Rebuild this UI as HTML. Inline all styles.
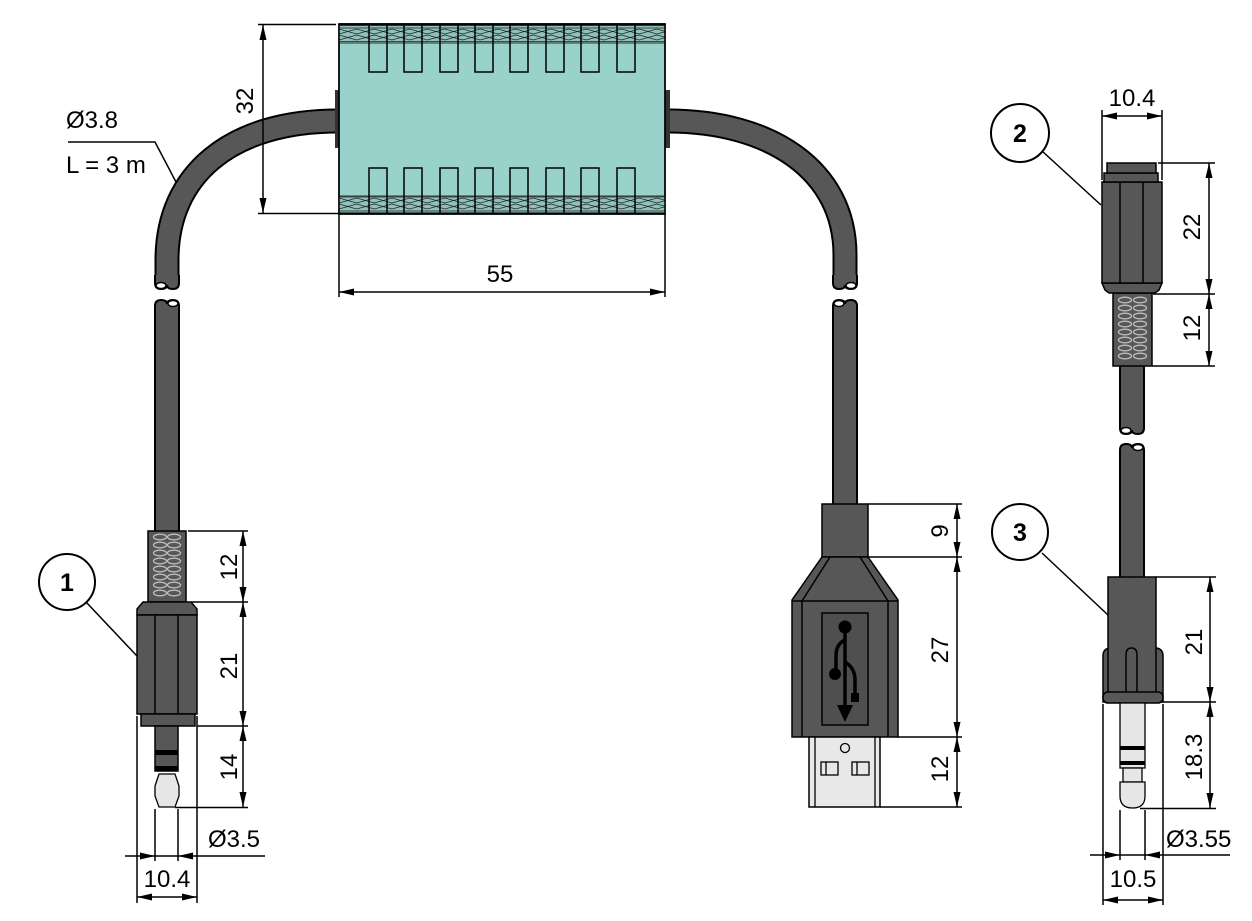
<!DOCTYPE html>
<html><head><meta charset="utf-8"><style>
html,body{margin:0;padding:0;background:#fff;}
svg{display:block;}
text{font-family:"Liberation Sans",Arial,sans-serif;font-size:24px;fill:#000;}
.b{font-weight:bold;font-size:25px;}
</style></head><body>
<svg width="1252" height="921" viewBox="0 0 1252 921" xmlns="http://www.w3.org/2000/svg">
<defs>
<marker id="ar" viewBox="0 0 15 7" refX="15" refY="3.5" markerWidth="15" markerHeight="7" markerUnits="userSpaceOnUse" orient="auto-start-reverse"><path d="M0,0 L15,3.5 L0,7 Z" fill="#000"/></marker>
<pattern id="hat" x="339" y="24" width="17.66" height="19" patternUnits="userSpaceOnUse">
<rect width="17.66" height="19" fill="#8fc2ba"/>
<path d="M0 4 L17.66 4 M0 5 L17.66 10 M0 10 L17.66 5 M0 11 L17.66 16 M0 16 L17.66 11 M0 17.5 L17.66 17.5" stroke="#222" stroke-width="0.8" fill="none"/>
</pattern>
<pattern id="hat2" x="339" y="196" width="17.66" height="18" patternUnits="userSpaceOnUse">
<rect width="17.66" height="18" fill="#8fc2ba"/>
<path d="M0 1 L17.66 1 M0 2 L17.66 7 M0 7 L17.66 2 M0 8 L17.66 13 M0 13 L17.66 8 M0 15 L17.66 15" stroke="#222" stroke-width="0.8" fill="none"/>
</pattern>
<g id="cap">
<path d="M-12 -6 L-12 2 Q-12 8 -6 8 Q0 8 0 4 Q0 8 6 8 Q12 8 12 2 L12 -6 Z" fill="#575757"/>
<path d="M-12 -6 L-12 2 Q-12 8 -6 8 Q0 8 0 4 Q0 8 6 8 Q12 8 12 2 L12 -6" fill="none" stroke="#000" stroke-width="2"/>
<ellipse cx="6" cy="4.5" rx="5" ry="3" fill="#fff" stroke="#000" stroke-width="1.5"/>
</g>
</defs>

<!-- cables -->
<g fill="none" stroke-linecap="butt">
<path d="M338 121 C230 121 167 175 167 260 L167 281" stroke="#000" stroke-width="25"/>
<path d="M338 121 C230 121 167 175 167 260 L167 281" stroke="#575757" stroke-width="21"/>
<path d="M668 121 C770 121 845 170 845 255 L845 281" stroke="#000" stroke-width="25"/>
<path d="M668 121 C770 121 845 170 845 255 L845 281" stroke="#575757" stroke-width="21"/>
</g>
<use href="#cap" transform="translate(167,281) scale(-1,1)"/>
<use href="#cap" transform="translate(845,281)"/>
<!-- lower cable pieces -->
<rect x="155" y="306" width="24" height="229" fill="#575757" stroke="#000" stroke-width="2"/>
<use href="#cap" transform="translate(167,308) scale(1,-1)"/>
<rect x="833" y="306" width="24" height="200" fill="#575757" stroke="#000" stroke-width="2"/>
<use href="#cap" transform="translate(845,308) scale(-1,-1)"/>

<!-- ferrite -->
<rect x="335" y="90" width="5" height="58" fill="#333"/>
<rect x="665" y="90" width="5" height="58" fill="#333"/>
<rect x="339" y="24" width="326" height="190" fill="#98d2ca" stroke="#000" stroke-width="1.5"/>
<rect x="339.5" y="24.5" width="325" height="18.5" fill="url(#hat)"/>
<rect x="339.5" y="196" width="325" height="17.5" fill="url(#hat2)"/>
<g stroke="#333" stroke-width="1">
<line x1="339" y1="43" x2="665" y2="43"/><line x1="339" y1="196" x2="665" y2="196"/>
</g>
<rect x="339" y="24" width="326" height="190" fill="none" stroke="#000" stroke-width="1.5"/>
<line x1="339" y1="24.5" x2="665" y2="24.5" stroke="#000" stroke-width="2.5"/>
<line x1="339" y1="213.5" x2="665" y2="213.5" stroke="#000" stroke-width="2"/>
<g fill="none" stroke="#000" stroke-width="1.5">
<path d="M369 24 V72 H387 V24"/><path d="M404 24 V72 H422 V24"/><path d="M440 24 V72 H458 V24"/><path d="M475 24 V72 H493 V24"/>
<path d="M510 24 V72 H528 V24"/><path d="M546 24 V72 H564 V24"/><path d="M581 24 V72 H599 V24"/><path d="M617 24 V72 H635 V24"/>
<path d="M369 214 V168 H387 V214"/><path d="M404 214 V168 H422 V214"/><path d="M440 214 V168 H458 V214"/><path d="M475 214 V168 H493 V214"/>
<path d="M510 214 V168 H528 V214"/><path d="M546 214 V168 H564 V214"/><path d="M581 214 V168 H599 V214"/><path d="M617 214 V168 H635 V214"/>
</g>

<!-- ferrite dims -->
<g stroke="#000" stroke-width="1.5" fill="none">
<line x1="258" y1="24.5" x2="336" y2="24.5"/>
<line x1="258" y1="213.5" x2="339" y2="213.5"/>
<line x1="263" y1="25" x2="263" y2="213" marker-start="url(#ar)" marker-end="url(#ar)"/>
<line x1="339" y1="214" x2="339" y2="297"/>
<line x1="665" y1="214" x2="665" y2="297"/>
<line x1="339" y1="292" x2="665" y2="292" marker-start="url(#ar)" marker-end="url(#ar)"/>
<polyline points="68,142 155,142 176,182"/>
</g>
<text transform="translate(253,101) rotate(-90)" text-anchor="middle">32</text>
<text x="500" y="282" text-anchor="middle">55</text>
<text x="66" y="128">Ø3.8</text>
<text x="66" y="173">L = 3 m</text>

<!-- LEFT JACK (1) -->
<rect x="148" y="531" width="38" height="71" fill="#575757" stroke="#000" stroke-width="1.5"/>
<g fill="none" stroke="#bdbdbd" stroke-width="1.3">
<ellipse cx="160" cy="537" rx="6.5" ry="2.8"/><ellipse cx="174" cy="537" rx="6.5" ry="2.8"/>
<ellipse cx="160" cy="545" rx="6.5" ry="2.8"/><ellipse cx="174" cy="545" rx="6.5" ry="2.8"/>
<ellipse cx="160" cy="553" rx="6.5" ry="2.8"/><ellipse cx="174" cy="553" rx="6.5" ry="2.8"/>
<ellipse cx="160" cy="561" rx="6.5" ry="2.8"/><ellipse cx="174" cy="561" rx="6.5" ry="2.8"/>
<ellipse cx="160" cy="569" rx="6.5" ry="2.8"/><ellipse cx="174" cy="569" rx="6.5" ry="2.8"/>
<ellipse cx="160" cy="577" rx="6.5" ry="2.8"/><ellipse cx="174" cy="577" rx="6.5" ry="2.8"/>
<ellipse cx="160" cy="585" rx="6.5" ry="2.8"/><ellipse cx="174" cy="585" rx="6.5" ry="2.8"/>
<ellipse cx="160" cy="593" rx="6.5" ry="2.8"/><ellipse cx="174" cy="593" rx="6.5" ry="2.8"/>
</g>
<polygon points="143,602 191,602 197,609 197,615 137,615 137,609" fill="#575757" stroke="#000" stroke-width="1.5"/>
<rect x="137" y="615" width="60" height="99" fill="#575757" stroke="#000" stroke-width="1.5"/>
<line x1="155" y1="615" x2="155" y2="714" stroke="#000" stroke-width="1.5"/>
<line x1="178" y1="615" x2="178" y2="714" stroke="#000" stroke-width="1.5"/>
<rect x="141" y="714" width="54" height="12" fill="#575757" stroke="#000" stroke-width="1.5"/>
<rect x="155" y="726" width="23" height="45" fill="#575757" stroke="#000" stroke-width="1.5"/>
<rect x="155" y="750" width="23" height="5" fill="#000"/>
<rect x="155" y="766" width="23" height="5" fill="#000"/>
<path d="M159 774 L175 774 L179 786 L179 796 L175 807 L159 807 L155 796 L155 786 Z" fill="#e6e6e6" stroke="#000" stroke-width="1.3"/>
<g stroke="#000" stroke-width="1.5" fill="none">
<line x1="188" y1="531" x2="248" y2="531"/>
<line x1="191" y1="602" x2="248" y2="602"/>
<line x1="197" y1="726" x2="248" y2="726"/>
<line x1="175" y1="807.5" x2="248" y2="807.5"/>
<line x1="243" y1="531" x2="243" y2="602" marker-start="url(#ar)" marker-end="url(#ar)"/>
<line x1="243" y1="602" x2="243" y2="726" marker-start="url(#ar)" marker-end="url(#ar)"/>
<line x1="243" y1="726" x2="243" y2="807" marker-start="url(#ar)" marker-end="url(#ar)"/>
<line x1="137" y1="716" x2="137" y2="903"/>
<line x1="197" y1="716" x2="197" y2="903"/>
<line x1="155" y1="809" x2="155" y2="861"/>
<line x1="178" y1="809" x2="178" y2="861"/>
<line x1="125" y1="856" x2="265" y2="856"/>
<line x1="137" y1="897" x2="197" y2="897" marker-start="url(#ar)" marker-end="url(#ar)"/>
</g>
<polygon points="140,852.5 155,856 140,859.5" fill="#000"/>
<polygon points="193,852.5 178,856 193,859.5" fill="#000"/>
<text transform="translate(237,567) rotate(-90)" text-anchor="middle">12</text>
<text transform="translate(237,666) rotate(-90)" text-anchor="middle">21</text>
<text transform="translate(237,767) rotate(-90)" text-anchor="middle">14</text>
<text x="208" y="847">Ø3.5</text>
<text x="167" y="887" text-anchor="middle">10.4</text>
<circle cx="67" cy="582" r="28" fill="#fff" stroke="#000" stroke-width="2"/>
<text x="67" y="591" text-anchor="middle" class="b">1</text>
<line x1="86" y1="602" x2="137" y2="656" stroke="#000" stroke-width="1.5"/>

<!-- USB -->
<rect x="822" y="504" width="46" height="53" fill="#575757" stroke="#000" stroke-width="1.5"/>
<polygon points="822,557 868,557 898,600 898,737 792,737 792,600" fill="#575757" stroke="#000" stroke-width="1.5"/>
<g stroke="#000" stroke-width="1.5" fill="none">
<line x1="830" y1="557" x2="802" y2="601"/>
<line x1="860" y1="557" x2="888" y2="601"/>
<line x1="792" y1="601" x2="898" y2="601"/>
<line x1="802" y1="601" x2="802" y2="737"/>
<line x1="888" y1="601" x2="888" y2="737"/>
</g>
<rect x="822" y="613" width="46" height="112" fill="#4f4f4f" stroke="#000" stroke-width="1.5"/>
<circle cx="845" cy="627" r="6.5" fill="#000"/>
<line x1="845" y1="627" x2="845" y2="708" stroke="#000" stroke-width="3.5"/>
<polygon points="837,705 853,705 845,722" fill="#000"/>
<path d="M845 640 Q836 644 836 656 L836 672" fill="none" stroke="#000" stroke-width="3.5"/>
<circle cx="835" cy="674" r="6" fill="#000"/>
<path d="M845 662 Q855 668 855 680 L855 694" fill="none" stroke="#000" stroke-width="3.5"/>
<rect x="851" y="693" width="8" height="9" fill="#000"/>
<rect x="809" y="737" width="71" height="70" fill="#e8e8e8" stroke="#000" stroke-width="1.5"/>
<g stroke="#000" stroke-width="1.3" fill="none">
<line x1="815" y1="737" x2="815" y2="807"/>
<line x1="875" y1="737" x2="875" y2="807"/>
<circle cx="845" cy="748" r="4.5"/>
<rect x="821" y="762" width="17" height="13"/>
<line x1="826" y1="762" x2="826" y2="775"/>
<rect x="852" y="762" width="17" height="13"/>
<line x1="857" y1="762" x2="857" y2="775"/>
</g>
<g stroke="#000" stroke-width="1.5" fill="none">
<line x1="868" y1="504" x2="962" y2="504"/>
<line x1="868" y1="557" x2="962" y2="557"/>
<line x1="898" y1="737" x2="962" y2="737"/>
<line x1="880" y1="807" x2="962" y2="807"/>
<line x1="957" y1="504" x2="957" y2="557" marker-start="url(#ar)" marker-end="url(#ar)"/>
<line x1="957" y1="557" x2="957" y2="737" marker-start="url(#ar)" marker-end="url(#ar)"/>
<line x1="957" y1="737" x2="957" y2="807" marker-start="url(#ar)" marker-end="url(#ar)"/>
</g>
<text transform="translate(948,531) rotate(-90)" text-anchor="middle">9</text>
<text transform="translate(948,650) rotate(-90)" text-anchor="middle">27</text>
<text transform="translate(948,769) rotate(-90)" text-anchor="middle">12</text>

<!-- RIGHT TOP (2) -->
<rect x="1120" y="360" width="24" height="66" fill="#575757" stroke="#000" stroke-width="2"/>
<rect x="1121" y="420" width="22" height="8" fill="#575757"/>
<use href="#cap" transform="translate(1132,426) scale(-1,1)"/>
<rect x="1113" y="293" width="39" height="73" fill="#575757" stroke="#000" stroke-width="1.5"/>
<g fill="none" stroke="#bdbdbd" stroke-width="1.3">
<ellipse cx="1125" cy="300" rx="6.5" ry="2.8"/><ellipse cx="1140" cy="300" rx="6.5" ry="2.8"/>
<ellipse cx="1125" cy="308" rx="6.5" ry="2.8"/><ellipse cx="1140" cy="308" rx="6.5" ry="2.8"/>
<ellipse cx="1125" cy="316" rx="6.5" ry="2.8"/><ellipse cx="1140" cy="316" rx="6.5" ry="2.8"/>
<ellipse cx="1125" cy="324" rx="6.5" ry="2.8"/><ellipse cx="1140" cy="324" rx="6.5" ry="2.8"/>
<ellipse cx="1125" cy="332" rx="6.5" ry="2.8"/><ellipse cx="1140" cy="332" rx="6.5" ry="2.8"/>
<ellipse cx="1125" cy="340" rx="6.5" ry="2.8"/><ellipse cx="1140" cy="340" rx="6.5" ry="2.8"/>
<ellipse cx="1125" cy="348" rx="6.5" ry="2.8"/><ellipse cx="1140" cy="348" rx="6.5" ry="2.8"/>
<ellipse cx="1125" cy="356" rx="6.5" ry="2.8"/><ellipse cx="1140" cy="356" rx="6.5" ry="2.8"/>
</g>
<polygon points="1102,283 1162,283 1159,290 1155,293 1109,293 1105,290" fill="#575757" stroke="#000" stroke-width="1.5"/>
<rect x="1102" y="182" width="60" height="101" fill="#575757" stroke="#000" stroke-width="1.5"/>
<line x1="1120" y1="182" x2="1120" y2="283" stroke="#000" stroke-width="1.5"/>
<line x1="1143" y1="182" x2="1143" y2="283" stroke="#000" stroke-width="1.5"/>
<rect x="1104" y="173" width="54" height="9" fill="#575757" stroke="#000" stroke-width="1.5"/>
<rect x="1107" y="163" width="49" height="10" fill="#575757" stroke="#000" stroke-width="1.5"/>
<g stroke="#000" stroke-width="1.5" fill="none">
<line x1="1102" y1="110" x2="1102" y2="180"/>
<line x1="1162" y1="110" x2="1162" y2="180"/>
<line x1="1102" y1="116" x2="1162" y2="116" marker-start="url(#ar)" marker-end="url(#ar)"/>
<line x1="1158" y1="163" x2="1215" y2="163"/>
<line x1="1153" y1="294" x2="1215" y2="294"/>
<line x1="1152" y1="366" x2="1215" y2="366"/>
<line x1="1209" y1="163" x2="1209" y2="294" marker-start="url(#ar)" marker-end="url(#ar)"/>
<line x1="1209" y1="294" x2="1209" y2="366" marker-start="url(#ar)" marker-end="url(#ar)"/>
</g>
<text x="1132" y="106" text-anchor="middle">10.4</text>
<text transform="translate(1200,227) rotate(-90)" text-anchor="middle">22</text>
<text transform="translate(1200,328) rotate(-90)" text-anchor="middle">12</text>
<circle cx="1020" cy="133" r="29" fill="#fff" stroke="#000" stroke-width="2"/>
<text x="1020" y="142" text-anchor="middle" class="b">2</text>
<line x1="1042" y1="151" x2="1101" y2="205" stroke="#000" stroke-width="1.5"/>

<!-- RIGHT BOTTOM (3) -->
<rect x="1120" y="450" width="24" height="129" fill="#575757" stroke="#000" stroke-width="2"/>
<use href="#cap" transform="translate(1132,452) scale(1,-1)"/>
<path d="M1103 702 L1103 656 Q1103 648 1111 648 L1155 648 Q1163 648 1163 656 L1163 702 Z" fill="#575757" stroke="#000" stroke-width="1.5"/>
<rect x="1108" y="577" width="48" height="120" fill="#575757" stroke="#000" stroke-width="1.5"/>
<path d="M1126 696 L1126 655 Q1126 648 1131.5 648 Q1137 648 1137 655 L1137 696" fill="#575757" stroke="#000" stroke-width="1.5"/>
<rect x="1103" y="692" width="60" height="11" rx="5" fill="#575757" stroke="#000" stroke-width="1.5"/>
<rect x="1120" y="703" width="25" height="65" fill="#e6e6e6" stroke="#000" stroke-width="1.3"/>
<rect x="1120" y="746" width="25" height="4" fill="#000"/>
<rect x="1120" y="761" width="25" height="4" fill="#000"/>
<rect x="1123" y="768" width="19" height="14" fill="#e6e6e6" stroke="#000" stroke-width="1.3"/>
<path d="M1120 782 L1145 782 L1145 796 Q1145 808 1132.5 808 Q1120 808 1120 796 Z" fill="#e6e6e6" stroke="#000" stroke-width="1.3"/>
<g stroke="#000" stroke-width="1.5" fill="none">
<line x1="1156" y1="577" x2="1216" y2="577"/>
<line x1="1163" y1="702" x2="1216" y2="702"/>
<line x1="1140" y1="808.5" x2="1216" y2="808.5"/>
<line x1="1210" y1="577" x2="1210" y2="702" marker-start="url(#ar)" marker-end="url(#ar)"/>
<line x1="1210" y1="702" x2="1210" y2="808" marker-start="url(#ar)" marker-end="url(#ar)"/>
<line x1="1103" y1="704" x2="1103" y2="905"/>
<line x1="1163" y1="704" x2="1163" y2="905"/>
<line x1="1120" y1="810" x2="1120" y2="860"/>
<line x1="1145" y1="810" x2="1145" y2="860"/>
<line x1="1090" y1="855" x2="1230" y2="855"/>
<line x1="1103" y1="900" x2="1163" y2="900" marker-start="url(#ar)" marker-end="url(#ar)"/>
</g>
<polygon points="1105,851.5 1120,855 1105,858.5" fill="#000"/>
<polygon points="1160,851.5 1145,855 1160,858.5" fill="#000"/>
<text transform="translate(1202,642) rotate(-90)" text-anchor="middle">21</text>
<text transform="translate(1202,757) rotate(-90)" text-anchor="middle">18.3</text>
<text x="1166" y="847">Ø3.55</text>
<text x="1133" y="887" text-anchor="middle">10.5</text>
<circle cx="1020" cy="532" r="28" fill="#fff" stroke="#000" stroke-width="2"/>
<text x="1020" y="541" text-anchor="middle" class="b">3</text>
<line x1="1042" y1="553" x2="1108" y2="615" stroke="#000" stroke-width="1.5"/>
</svg>
</body></html>
